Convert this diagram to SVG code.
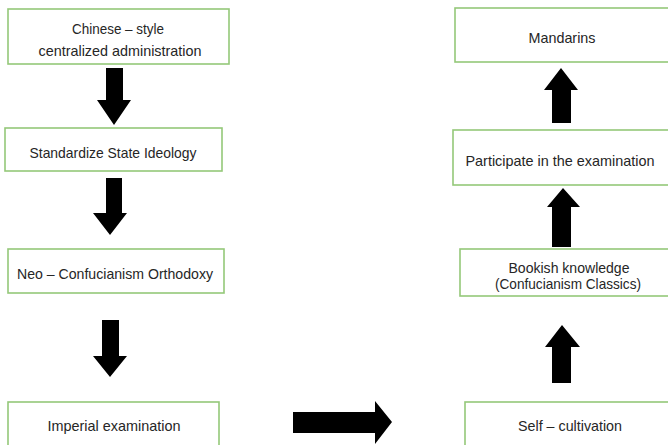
<svg xmlns="http://www.w3.org/2000/svg" width="668" height="445" viewBox="0 0 668 445">
<defs>
<style>
.box{fill:#fff;stroke:#94c879;stroke-width:1.6}
.t{font-family:"Liberation Sans",Arial,sans-serif;font-size:15px;fill:#262626;text-anchor:middle;dominant-baseline:central}
.arr{fill:#000}
</style>
</defs>
<rect width="668" height="445" fill="#fff"/>
<g id="n1"><rect class="box" x="8" y="9" width="221" height="55"/>
<text class="t" x="118" y="28" textLength="92" lengthAdjust="spacingAndGlyphs">Chinese – style</text>
<text class="t" x="120" y="50" textLength="163" lengthAdjust="spacingAndGlyphs">centralized administration</text></g>
<g id="n2"><rect class="box" x="5" y="128" width="217" height="43"/>
<text class="t" x="113" y="152" textLength="167" lengthAdjust="spacingAndGlyphs">Standardize State Ideology</text></g>
<g id="n3"><rect class="box" x="8" y="249" width="216" height="44"/>
<text class="t" x="115" y="273" textLength="196" lengthAdjust="spacingAndGlyphs">Neo – Confucianism Orthodoxy</text></g>
<g id="n4"><rect class="box" x="8" y="402" width="211" height="50"/>
<text class="t" x="114" y="425" textLength="133" lengthAdjust="spacingAndGlyphs">Imperial examination</text></g>
<g id="n5"><rect class="box" x="455" y="8" width="220" height="54"/>
<text class="t" x="562" y="37" textLength="67" lengthAdjust="spacingAndGlyphs">Mandarins</text></g>
<g id="n6"><rect class="box" x="453" y="130" width="222" height="55"/>
<text class="t" x="560" y="160" textLength="189" lengthAdjust="spacingAndGlyphs">Participate in the examination</text></g>
<g id="n7"><rect class="box" x="460" y="249" width="215" height="47"/>
<text class="t" x="569" y="267" textLength="121" lengthAdjust="spacingAndGlyphs">Bookish knowledge</text>
<text class="t" x="568" y="283" textLength="146" lengthAdjust="spacingAndGlyphs">(Confucianism Classics)</text></g>
<g id="n8"><rect class="box" x="465" y="402" width="210" height="50"/>
<text class="t" x="570" y="425" textLength="104" lengthAdjust="spacingAndGlyphs">Self – cultivation</text></g>
<g id="connectors">
<polygon class="arr" points="106,68 123,68 123,100 131,100 114,125 97,100 106,100"/>
<polygon class="arr" points="106,178 122,178 122,213 127,213 110,235 93,213 106,213"/>
<polygon class="arr" points="102,320 119,320 119,356 127,356 110,377 93,356 102,356"/>
<polygon class="arr" points="293,412 375,412 375,401 392,422 375,444 375,433 293,433"/>
<polygon class="arr" points="552,123 571,123 571,90 578,90 561,68 544,90 552,90"/>
<polygon class="arr" points="552,247 571,247 571,207 580,207 563,188 547,207 552,207"/>
<polygon class="arr" points="552,383 571,383 571,347 580,347 562,325 545,347 552,347"/>
</g>
</svg>
